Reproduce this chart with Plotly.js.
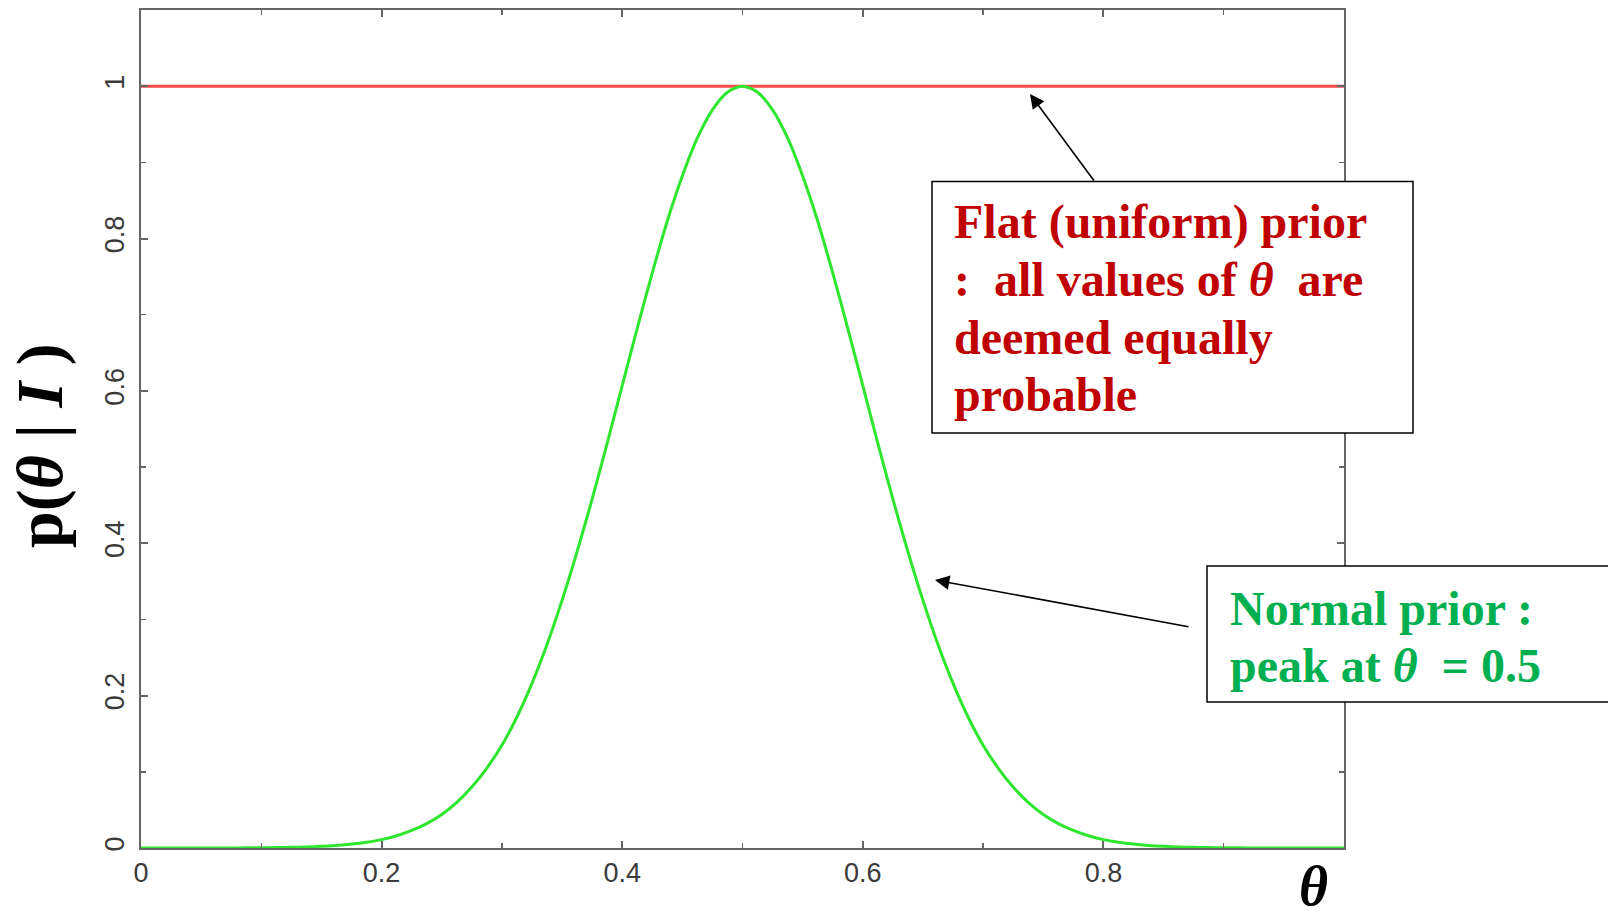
<!DOCTYPE html>
<html>
<head>
<meta charset="utf-8">
<script src="https://cdn.plot.ly/plotly-3.0.1.min.js"></script>
<style>
html,body{margin:0;padding:0;background:#fff;}
#chart{width:1608px;height:919px;}
</style>
</head>
<body>
<div id="chart"></div>
<script>
// theta grid (x) and the read-off prior values
const theta = [0,0.0125,0.025,0.0375,0.05,0.0625,0.075,0.0875,0.1,0.1125,0.125,0.1375,0.15,0.1625,0.175,0.1875,
  0.2,0.2125,0.225,0.2375,0.25,0.2625,0.275,0.2875,0.3,0.3125,0.325,0.3375,0.35,0.3625,0.375,0.3875,
  0.4,0.4125,0.425,0.4375,0.45,0.4625,0.475,0.4875,0.5,
  0.5125,0.525,0.5375,0.55,0.5625,0.575,0.5875,0.6,0.6125,0.625,0.6375,0.65,0.6625,0.675,0.6875,
  0.7,0.7125,0.725,0.7375,0.75,0.7625,0.775,0.7875,0.8,0.8125,0.825,0.8375,0.85,0.8625,0.875,0.8875,
  0.9,0.9125,0.925,0.9375,0.95,0.9625,0.975,0.9875,1];
const normalPrior = [0,0.00001,0.00001,0.00002,0.00004,0.00007,0.0001,0.0002,0.0003,0.00055,0.0009,0.0014,0.0022,0.0034,0.0051,0.0076,
  0.011,0.016,0.023,0.032,0.044,0.060,0.080,0.105,0.135,0.172,0.216,0.267,0.325,0.389,0.458,0.531,
  0.607,0.682,0.755,0.823,0.882,0.932,0.969,0.992,1,
  0.992,0.969,0.932,0.882,0.823,0.755,0.682,0.607,0.531,0.458,0.389,0.325,0.267,0.216,0.172,
  0.135,0.105,0.080,0.060,0.044,0.032,0.023,0.016,0.011,0.0076,0.0051,0.0034,0.0022,0.0014,0.0009,0.00055,
  0.0003,0.0002,0.0001,0.00007,0.00004,0.00002,0.00001,0.00001,0];
const flatTheta = [0,1];
const flatPrior = [1,1];

const xTickVals = [0,0.2,0.4,0.6,0.8];
const xTickText = ['0','0.2','0.4','0.6','0.8'];
const xMinorVals = [0.1,0.3,0.5,0.7,0.9];
const yTickVals = [0,0.2,0.4,0.6,0.8,1];
const yTickText = ['0','0.2','0.4','0.6','0.8','1'];
const yMinorVals = [0.1,0.3,0.5,0.7,0.9];

const flatLines = ['Flat (uniform) prior', ':  all values of <i>θ</i>  are', 'deemed equally', 'probable'];
const normalLines = ['Normal prior :', 'peak at <i>θ</i>&nbsp; = 0.5'];

const axisCol = '#666';
const tickFont = {family:'Liberation Sans, Arial, sans-serif', size:27, color:'#3a3a3a'};
const serif = 'Liberation Serif, Times New Roman, serif';

const traces = [
  {x: flatTheta, y: flatPrior, mode:'lines', line:{color:'#ff4a4a', width:3}, hoverinfo:'skip'},
  {x: theta, y: normalPrior, mode:'lines', line:{color:'#2ee62e', width:3, shape:'spline', smoothing:0.8}, hoverinfo:'skip'}
];

// pixel -> paper helpers for layout placement
const L = 141, R = 264, T = 10, B = 71;
const PW = 1608 - L - R, PH = 919 - T - B;
const px = v => (v - L) / PW;
const py = v => (919 - B - v) / PH;

const annotations = [];
flatLines.forEach((t, i) => {
  annotations.push({xref:'paper', yref:'paper', x:px(952), y:py(222 + i*57.5), xanchor:'left', yanchor:'middle',
    text:'<b>'+t+'</b>', showarrow:false, font:{family:serif, size:48, color:'#c00000'}});
});
normalLines.forEach((t, i) => {
  annotations.push({xref:'paper', yref:'paper', x:px(1228), y:py(608 + i*57.5), xanchor:'left', yanchor:'middle',
    text:'<b>'+t+'</b>', showarrow:false, font:{family:serif, size:48, color:'#00b050'}});
});
// arrows
annotations.push({xref:'paper', yref:'paper', x:px(1030), y:py(94), text:'', showarrow:true,
  ax:65, ay:88, arrowhead:2, arrowsize:1.8, arrowwidth:1.6, arrowcolor:'#000', standoff:0, startstandoff:0});
annotations.push({xref:'paper', yref:'paper', x:px(935), y:py(580), text:'', showarrow:true,
  ax:255, ay:47, arrowhead:2, arrowsize:1.8, arrowwidth:1.6, arrowcolor:'#000', standoff:0, startstandoff:0});
// axis titles
annotations.push({xref:'paper', yref:'paper', x:px(40), y:py(446), xanchor:'center', yanchor:'middle', textangle:-90,
  text:'<b>p(<i>θ</i>&nbsp;|&nbsp;<i>I</i>&nbsp;)</b>', showarrow:false, font:{family:serif, size:66, color:'#000'}});
annotations.push({xref:'paper', yref:'paper', x:px(1313), y:py(886), xanchor:'center', yanchor:'middle',
  text:'<b><i>θ</i></b>', showarrow:false, font:{family:serif, size:56, color:'#000'}});

const shapes = [
  {type:'rect', xref:'paper', yref:'paper', x0:px(932), x1:px(1413), y0:py(433), y1:py(181.5),
   line:{color:'#000', width:1.5}, fillcolor:'#fff', layer:'above'},
  {type:'rect', xref:'paper', yref:'paper', x0:px(1207), x1:px(1650), y0:py(702), y1:py(566),
   line:{color:'#000', width:1.5}, fillcolor:'#fff', layer:'above'}
];

const layout = {
  width:1608, height:919,
  margin:{l:L, r:R, t:T, b:B, pad:0},
  paper_bgcolor:'#fff', plot_bgcolor:'#fff',
  showlegend:false,
  xaxis:{range:[0,1], showgrid:false, zeroline:false, showline:true, linecolor:axisCol, linewidth:2, mirror:'ticks',
    ticks:'inside', ticklen:7, tickwidth:2, tickcolor:axisCol, tickmode:'array', tickvals:xTickVals, ticktext:xTickText,
    tickfont:tickFont, ticklabelstandoff:0,
    minor:{tickmode:'array', tickvals:xMinorVals, ticks:'inside', ticklen:5, tickwidth:1.5, tickcolor:axisCol, showgrid:false}},
  yaxis:{range:[0,1.1], showgrid:false, zeroline:false, showline:true, linecolor:axisCol, linewidth:2, mirror:'ticks',
    ticks:'inside', ticklen:7, tickwidth:2, tickcolor:axisCol, tickmode:'array', tickvals:yTickVals, ticktext:yTickText,
    tickfont:tickFont, tickangle:-90, ticklabelstandoff:4,
    minor:{tickmode:'array', tickvals:yMinorVals, ticks:'inside', ticklen:5, tickwidth:1.5, tickcolor:axisCol, showgrid:false}},
  annotations: annotations,
  shapes: shapes
};

Plotly.newPlot('chart', traces, layout, {displayModeBar:false, staticPlot:true});
</script>
</body>
</html>
